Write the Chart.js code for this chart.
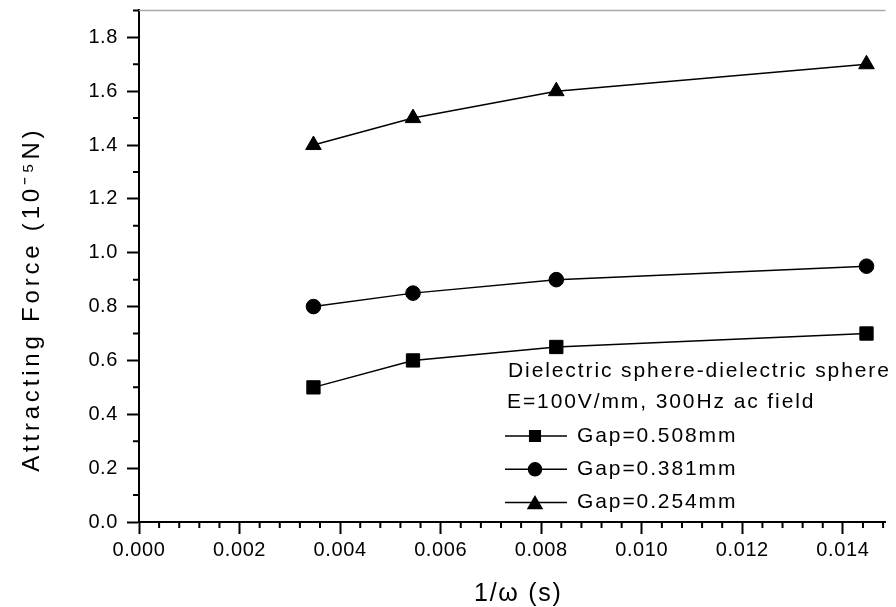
<!DOCTYPE html>
<html>
<head>
<meta charset="utf-8">
<script src="https://cdn.jsdelivr.net/npm/chart.js@4"></script>
<style>
  html, body { margin: 0; padding: 0; background: #fff; }
  canvas { display: block; }
</style>
</head>
<body>
<canvas id="force" width="896" height="607"></canvas>
<script>
// 1/omega values (s) shared by all three series
let omegaInv = [0.00347, 0.00545, 0.0083, 0.01447];
let gap508 = [0.50, 0.60, 0.65, 0.70];
let gap381 = [0.80, 0.85, 0.90, 0.95];
let gap254 = [1.40, 1.50, 1.60, 1.70];
let seriesNames = ['Gap=0.508mm', 'Gap=0.381mm', 'Gap=0.254mm'];
let noteLines = ['Dielectric sphere-dielectric sphere', 'E=100V/mm, 300Hz ac field'];

let xTicks = [0, 0.002, 0.004, 0.006, 0.008, 0.010, 0.012, 0.014];
let xMinor = [0.0004, 0.0008, 0.0012, 0.0016, 0.0024, 0.0028, 0.0032, 0.0036,
              0.0044, 0.0048, 0.0052, 0.0056, 0.0064, 0.0068, 0.0072, 0.0076,
              0.0084, 0.0088, 0.0092, 0.0096, 0.0104, 0.0108, 0.0112, 0.0116,
              0.0124, 0.0128, 0.0132, 0.0136, 0.0144, 0.0148];
let yTicks = [0, 0.2, 0.4, 0.6, 0.8, 1.0, 1.2, 1.4, 1.6, 1.8];
let yMinor = [0.1, 0.3, 0.5, 0.7, 0.9, 1.1, 1.3, 1.5, 1.7, 1.9];

let fontFamily = '"Liberation Sans", Arial, Helvetica, sans-serif';

function pts(ys) {
    return omegaInv.map(function(x, i) { return {x: x, y: ys[i]}; });
}

// wider letter spacing, like the original figure's text;
// titles also get a small nudge to sit where the original ones are
let titleStyle = {
    x: { spacing: '1.7px', dx: 6, dy: 2 },
    y: { spacing: '3.8px', dx: 0, dy: 33 }
};
let spacingPlugin = {
    id: 'spacing',
    beforeDraw: function(chart) {
        chart.ctx.letterSpacing = '0.6px';
    },
    afterUpdate: function(chart) {
        Object.values(chart.scales).forEach(function(s) {
            if (s._spaced) return;
            let orig = s.drawTitle.bind(s);
            let st = titleStyle[s.id];
            s.drawTitle = function() {
                let c = this.ctx;
                c.save();
                c.letterSpacing = st.spacing;
                c.translate(st.dx, st.dy);
                orig();
                c.restore();
            };
            s._spaced = true;
        });
    }
};

// minor ticks, top frame line and the in-plot legend
let extrasPlugin = {
    id: 'extras',
    afterDraw: function(chart) {
        let ctx = chart.ctx;
        let area = chart.chartArea;
        let xs = chart.scales.x, ys = chart.scales.y;
        ctx.save();
        ctx.strokeStyle = '#000';
        ctx.lineWidth = 2;
        ctx.beginPath();
        xMinor.forEach(function(v) {
            let px = xs.getPixelForValue(v);
            if (px > area.right) return;
            ctx.moveTo(px, area.bottom);
            ctx.lineTo(px, area.bottom + 6);
        });
        yMinor.forEach(function(v) {
            let py = ys.getPixelForValue(v);
            ctx.moveTo(area.left, py);
            ctx.lineTo(area.left - 6, py);
        });
        ctx.stroke();

        ctx.strokeStyle = '#aaaaaa';
        ctx.lineWidth = 1.5;
        ctx.beginPath();
        ctx.moveTo(area.left, area.top);
        ctx.lineTo(area.right, area.top);
        ctx.stroke();

        ctx.font = '21px ' + fontFamily;
        ctx.letterSpacing = '1.9px';
        ctx.fillStyle = '#000';
        ctx.textAlign = 'left';
        ctx.textBaseline = 'middle';
        ctx.fillText(noteLines[0], 508, 371);
        ctx.fillText(noteLines[1], 507, 402);

        let legendR = [7.5, 6.5, 8];
        chart.data.datasets.forEach(function(ds, i) {
            let y = 436 + i * 33.3;
            ctx.strokeStyle = '#000';
            ctx.fillStyle = '#000';
            ctx.lineWidth = 1.5;
            ctx.beginPath();
            ctx.moveTo(505, y);
            ctx.lineTo(567, y);
            ctx.stroke();
            Chart.helpers.drawPoint(ctx, {
                pointStyle: ds.pointStyle,
                radius: legendR[i],
                borderWidth: 1,
                rotation: 0
            }, 535, ds.pointStyle === 'triangle' ? y + 2 : y);
            ctx.fillText(ds.label, 577, y);
        });
        ctx.restore();
    }
};

let forceCanva = document.getElementById('force');
let forceChart = new Chart(forceCanva, {
    type: 'line',
    data: {
        datasets: [
            {
                label: seriesNames[0],
                data: pts(gap508),
                pointStyle: 'rect',
                pointRadius: 9.4
            },
            {
                label: seriesNames[1],
                data: pts(gap381),
                pointStyle: 'circle',
                pointRadius: 7.3
            },
            {
                label: seriesNames[2],
                data: pts(gap254),
                pointStyle: 'triangle',
                pointRadius: 9
            }
        ]
    },
    options: {
        responsive: false,
        animation: false,
        layout: { padding: { top: 10, left: 0, right: 0, bottom: 0 } },
        elements: {
            line: { borderColor: '#000', borderWidth: 1.5, tension: 0, fill: false },
            point: { backgroundColor: '#000', borderColor: '#000', borderWidth: 1, hoverRadius: 9 }
        },
        plugins: {
            legend: { display: false },
            tooltip: { enabled: false }
        },
        scales: {
            x: {
                type: 'linear',
                min: 0,
                max: 0.01485,
                afterBuildTicks: function(scale) {
                    scale.ticks = xTicks.map(function(v) { return {value: v}; });
                },
                afterFit: function(scale) {
                    scale.height = 85;
                    scale.paddingLeft = 0;
                    scale.paddingRight = 0;
                },
                border: { display: true, color: '#000', width: 2 },
                grid: {
                    drawOnChartArea: false,
                    drawTicks: true,
                    tickLength: 12,
                    tickWidth: 2,
                    tickColor: '#000'
                },
                ticks: {
                    color: '#000',
                    padding: 4,
                    maxRotation: 0,
                    font: { family: fontFamily, size: 20 },
                    callback: function(v) { return v.toFixed(3); }
                },
                title: {
                    display: true,
                    text: '1/\u03c9 (s)',
                    color: '#000',
                    padding: { top: 0, bottom: 0 },
                    font: { family: fontFamily, size: 25 }
                }
            },
            y: {
                type: 'linear',
                min: 0,
                max: 1.9,
                afterBuildTicks: function(scale) {
                    scale.ticks = yTicks.map(function(v) { return {value: v}; });
                },
                afterFit: function(scale) {
                    scale.width = 139;
                    scale.paddingTop = 0;
                    scale.paddingBottom = 0;
                },
                border: { display: true, color: '#000', width: 2 },
                grid: {
                    drawOnChartArea: false,
                    drawTicks: true,
                    tickLength: 12,
                    tickWidth: 2,
                    tickColor: '#000'
                },
                ticks: {
                    color: '#000',
                    padding: 9,
                    font: { family: fontFamily, size: 20 },
                    callback: function(v) { return v.toFixed(1); }
                },
                title: {
                    display: true,
                    text: 'Attracting Force (10\u207b\u2075N)',
                    color: '#000',
                    padding: { top: 18, bottom: 0 },
                    font: { family: fontFamily, size: 24 }
                }
            }
        }
    },
    plugins: [spacingPlugin, extrasPlugin]
});
</script>
</body>
</html>
